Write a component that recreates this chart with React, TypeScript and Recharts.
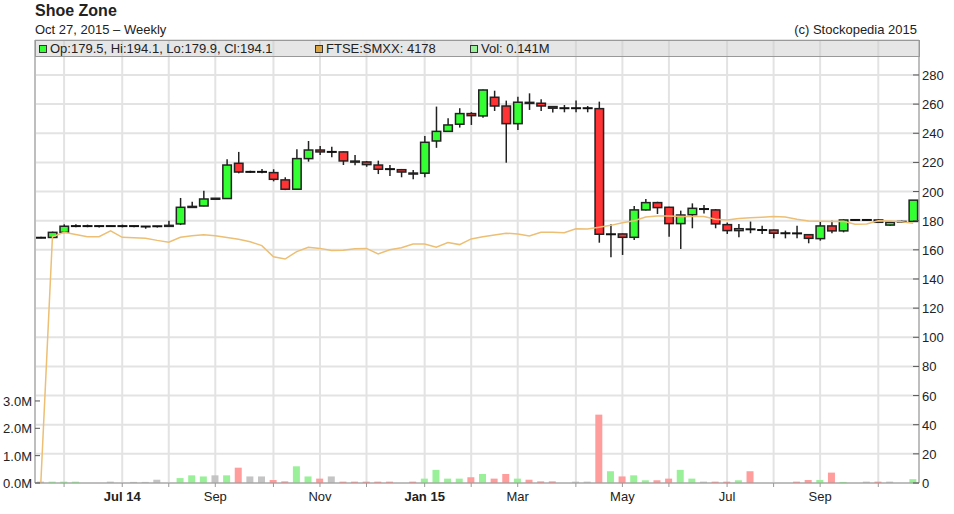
import React from "react";
import {
  ComposedChart,
  Bar,
  Line,
  XAxis,
  YAxis,
  CartesianGrid,
  Cell,
} from "recharts";

// weekly candles, May 2014 .. Oct 2015
const opens = [
  168.3, 168.5, 172, 176.3, 176.3, 176.3, 176.3, 176.3, 176.3, 176, 176.2, 176.5, 177.8, 189.5, 190.1, 195.2,
  195.2, 219.4, 213.5, 213.5, 213, 208, 201.6, 222.6, 228.5, 227.2, 227.2, 220.9, 220.3, 218.2, 215.4, 215,
  212.7, 212.6, 234.7, 241.3, 246.2, 253.5, 251.9, 264.7, 258.7, 246.6, 261, 260.6, 258.3, 257.2, 257.2, 257.2,
  256.9, 170.7, 170.9, 168.6, 187.4, 192.4, 189.2, 178, 184.1, 188, 187.4, 177.3, 173.2, 174.1, 173.6, 173.6,
  171.4, 171.3, 170.4, 167.7, 176.4, 173, 180.5, 180.5, 180.5, 177, 179.3, 179.5,
];
const highs = [
  169, 172.5, 177.5, 177.5, 177.3, 176.5, 176.6, 177.3, 176.5, 176.3, 176.4, 180, 195.6, 193, 200.6, 195.5,
  222.2, 227.2, 214.3, 215.5, 215.3, 209.8, 229, 234.7, 231.3, 230.8, 227.5, 225, 221, 221.2, 218.2, 215.5,
  214.8, 238.2, 258.3, 250.3, 257.2, 254.5, 270, 269.2, 262.4, 265.1, 267.4, 263.3, 258.5, 259.4, 262.4, 258.7,
  261.7, 177.5, 171.2, 190.1, 194.9, 193, 189.5, 186.9, 191.9, 190.8, 188, 178.7, 177.7, 179.4, 176.6, 174,
  173.2, 176.6, 170.5, 179.4, 180, 181, 181, 181, 181, 179, 180, 194.1,
];
const lows = [
  168, 168, 171.8, 175.5, 175.5, 175.3, 176, 175.4, 175.5, 174.5, 175.3, 176, 177, 189, 190, 195,
  195, 212.5, 212.8, 212.5, 207, 201, 201, 220.5, 225, 223.5, 218.2, 218, 217, 212, 210.7, 209.8,
  208.4, 209.8, 230, 241, 243.9, 245.7, 250.7, 255.3, 219.8, 242.3, 256, 255.3, 254.2, 254.4, 254.4, 254.4,
  164.9, 154.9, 156.5, 166.8, 187, 184.6, 169, 160.6, 174.8, 185, 174.8, 170.9, 168.6, 171.4, 170.9, 167.9,
  167.9, 167.9, 164.5, 166.3, 171.4, 172, 180, 180, 178.5, 176.5, 178.8, 179.5,
];
const closes = [
  168.3, 172, 176.2, 176.3, 176.3, 176.3, 176.3, 176.3, 176.3, 176, 176.2, 176.8, 189.2, 189.8, 194.9, 195.4,
  218.2, 213.4, 213.5, 213.5, 208.4, 201.6, 222.6, 228.5, 227.2, 227.2, 221, 220.7, 218.5, 215.3, 215.4, 213.4,
  212.6, 233.8, 241.3, 245.7, 253.5, 252.1, 269.7, 258.7, 246.6, 261.3, 261.2, 258.7, 257.2, 257.2, 257.2, 257.2,
  170.7, 170.7, 168.6, 187.4, 192.4, 189, 178, 183.9, 188.5, 188, 177.8, 173.2, 174.5, 174.1, 173.6, 171.4,
  171.4, 171.3, 167.9, 176.4, 173, 180.5, 180.5, 180.5, 178.9, 178.9, 179.3, 194.1,
];

// volume in millions, colour by move: u up, d down, n unchanged
const volumes = [
  0.05, 0.05, 0.05, 0.05, 0, 0, 0.05, 0, 0.04, 0.04, 0.12, 0, 0.18, 0.28, 0.24, 0.28,
  0.28, 0.56, 0.24, 0.24, 0.11, 0.06, 0.61, 0.24, 0.16, 0.24, 0.05, 0.05, 0.05, 0.05, 0.05, 0,
  0.05, 0.16, 0.48, 0.16, 0.16, 0.21, 0.33, 0.16, 0.33, 0.16, 0.12, 0.06, 0.06, 0, 0.05, 0.05,
  2.5, 0.43, 0.24, 0.28, 0.1, 0.1, 0.16, 0.48, 0.16, 0.05, 0.05, 0.05, 0.1, 0.43, 0, 0,
  0, 0.05, 0.11, 0.11, 0.38, 0.04, 0, 0.05, 0.05, 0.05, 0, 0.141,
];
const volMoves = [
  "n", "u", "u", "u", "n", "n", "n", "n", "n", "n", "n", "n", "u", "u", "u", "n",
  "u", "d", "n", "n", "d", "d", "u", "u", "d", "n", "d", "d", "d", "d", "d", "n",
  "d", "u", "u", "u", "u", "d", "u", "d", "d", "u", "d", "d", "d", "n", "n", "n",
  "d", "u", "d", "u", "u", "d", "d", "u", "u", "n", "d", "d", "u", "d", "n", "n",
  "n", "d", "d", "u", "d", "u", "n", "n", "d", "n", "n", "u",
];

// FTSE:SMXX rebased to the share price
const ftse = [
  0, 169, 172, 170.5, 169, 169, 173, 168.6, 168.3, 168, 166.5, 165.2, 168.6, 169.6, 170.4, 169.7,
  168.5, 167.3, 165.5, 162.9, 155.3, 153.7, 158.8, 161.8, 161, 159.5, 159.8, 160.8, 161, 157.2, 160, 161.5,
  164, 164, 161.8, 165, 163.6, 167.5, 169, 170.2, 171.4, 170.9, 169.5, 172, 172, 171.8, 174.5, 174.3,
  175.5, 176.8, 178.6, 180, 182.5, 183.2, 183.2, 182.8, 182.8, 182.8, 181, 180.5, 181.5, 182, 182.4, 182.8,
  182.6, 181, 179.8, 179.6, 179.4, 179.6, 177.5, 177.8, 180, 179.8, 179.2, 178.2,
];

const monthStarts = [2, 7, 11, 15, 20, 24, 28, 33, 37, 41, 46, 50, 54, 59, 63, 67, 72];
const monthLabels = ["", "Jul 14", "", "Sep", "", "Nov", "", "Jan 15", "", "Mar", "", "May", "", "Jul", "", "Sep", ""];
const priceTicks = [0, 20, 40, 60, 80, 100, 120, 140, 160, 180, 200, 220, 240, 260, 280];
const volTicks = [0, 1, 2, 3];

const FONT = "'Liberation Sans', Arial, sans-serif";
const UP = "#33ff33";
const DOWN = "#ff3333";
const VOL_COLORS: Record<string, string> = { u: "#99f099", d: "#ff9c9c", n: "#c4c4c4" };

const data = opens.map((o, i) => ({
  i,
  open: o,
  high: highs[i],
  low: lows[i],
  close: closes[i],
  vol: volumes[i],
  ftse: ftse[i],
}));

function Candle(props: any) {
  const { x, y, width, height, payload } = props;
  if (!payload || height == null) return null;
  const { open, close, high, low } = payload;
  const ppu = height / (high - low);
  const py = (v: number) => y + (high - v) * ppu;
  const cx = x + width / 2;
  const top = py(Math.max(open, close));
  const bot = py(Math.min(open, close));
  return (
    <g>
      <line x1={cx} x2={cx} y1={py(high)} y2={py(low)} stroke="#222" strokeWidth={1.5} />
      {open === close ? (
        <rect x={cx - 5} y={top - 1} width={10} height={2} fill="#111" />
      ) : (
        <rect
          x={cx - 4.25}
          y={top}
          width={8.5}
          height={Math.max(bot - top, 1)}
          fill={close > open ? UP : DOWN}
          stroke="#222"
          strokeWidth={1.5}
        />
      )}
    </g>
  );
}

function XTick(props: any) {
  const { x, y, payload } = props;
  const label = monthLabels[monthStarts.indexOf(payload.value)] || "";
  const bold = /\d/.test(label);
  return (
    <g>
      <line x1={x} x2={x} y1={y} y2={y + 4} stroke="#999" />
      <text x={x} y={y + 18} textAnchor="middle" fontSize={13} fontFamily={FONT}
        fontWeight={bold ? "bold" : "normal"} fill="#222">
        {label}
      </text>
    </g>
  );
}

function PriceTick(props: any) {
  const { x, y, payload } = props;
  return (
    <g>
      <line x1={x - 6} x2={x} y1={y} y2={y} stroke="#555" />
      <text x={x + 3} y={y + 5} textAnchor="start" fontSize={13} fontFamily={FONT} fill="#222">
        {payload.value}
      </text>
    </g>
  );
}

function VolTick(props: any) {
  const { x, y, payload } = props;
  return (
    <g>
      <line x1={x} x2={x + 5} y1={y} y2={y} stroke="#555" />
      <text x={x - 3} y={y + 5} textAnchor="end" fontSize={13} fontFamily={FONT} fill="#222">
        {payload.value.toFixed(1)}M
      </text>
    </g>
  );
}

const sq = (color: string) => ({
  display: "inline-block",
  width: 6,
  height: 6,
  background: color,
  border: "1px solid #333",
  marginRight: 3,
  verticalAlign: "middle",
  position: "relative" as const,
  top: -1,
});

export default function App() {
  return (
    <div style={{ position: "absolute", left: 0, top: 0, width: 954, height: 514, background: "#fff", fontFamily: FONT, color: "#222" }}>
      <ComposedChart
        width={954}
        height={514}
        data={data}
        margin={{ top: 40, right: 0, bottom: 0, left: 0 }}
        style={{ position: "absolute", left: 0, top: 0 }}
      >
        <CartesianGrid xAxisId="x" yAxisId="price" stroke="#e3e3e3" strokeWidth={2} />
        <XAxis
          xAxisId="x"
          dataKey="i"
          type="category"
          ticks={monthStarts}
          interval={0}
          height={31}
          tickSize={0}
          tickMargin={0}
          tickLine={false}
          axisLine={{ stroke: "#999" }}
          tick={(p: any) => <XTick {...p} />}
        />
        <XAxis xAxisId="xv" dataKey="i" type="category" hide />
        <YAxis
          yAxisId="vol"
          orientation="left"
          width={35}
          domain={[0, 16.2]}
          ticks={volTicks}
          allowDataOverflow
          tickSize={0}
          tickMargin={0}
          tickLine={false}
          axisLine={{ stroke: "#999" }}
          tick={(p: any) => <VolTick {...p} />}
        />
        <YAxis
          yAxisId="price"
          orientation="right"
          width={35}
          domain={[0, 304]}
          ticks={priceTicks}
          allowDataOverflow
          tickSize={0}
          tickMargin={0}
          tickLine={false}
          axisLine={{ stroke: "#999" }}
          tick={(p: any) => <PriceTick {...p} />}
        />
        <Bar xAxisId="xv" yAxisId="vol" dataKey="vol" barSize={7} isAnimationActive={false}>
          {data.map((d, i) => (
            <Cell key={`v-${i}`} fill={VOL_COLORS[volMoves[i]]} />
          ))}
        </Bar>
        <Line
          xAxisId="x"
          yAxisId="price"
          dataKey="ftse"
          stroke="#ecbf74"
          strokeWidth={1.5}
          dot={false}
          activeDot={false}
          isAnimationActive={false}
        />
        <Bar
          xAxisId="x"
          yAxisId="price"
          dataKey={(d: any) => [d.low, d.high]}
          barSize={10}
          shape={(p: any) => <Candle {...p} />}
          isAnimationActive={false}
        />
      </ComposedChart>

      <div style={{ position: "absolute", left: 35, top: 2, fontSize: 16, fontWeight: "bold" }}>Shoe Zone</div>
      <div style={{ position: "absolute", left: 35, top: 22, fontSize: 13 }}>Oct 27, 2015 – Weekly</div>
      <div style={{ position: "absolute", right: 37, top: 22, fontSize: 13 }}>(c) Stockopedia 2015</div>

      <div
        style={{
          position: "absolute",
          left: 35,
          top: 40,
          width: 885,
          height: 17,
          boxSizing: "border-box",
          border: "1px solid #999",
          background: "rgba(200,200,200,0.45)",
          fontSize: 13,
          lineHeight: "15px",
          whiteSpace: "nowrap",
        }}
      >
        <span style={{ position: "absolute", left: 3 }}>
          <span style={sq(UP)} />Op:179.5, Hi:194.1, Lo:179.9, Cl:194.1
        </span>
        <span style={{ position: "absolute", left: 279 }}>
          <span style={sq("#d9a441")} />FTSE:SMXX: 4178
        </span>
        <span style={{ position: "absolute", left: 434 }}>
          <span style={sq("#99f099")} />Vol: 0.141M
        </span>
      </div>
    </div>
  );
}
